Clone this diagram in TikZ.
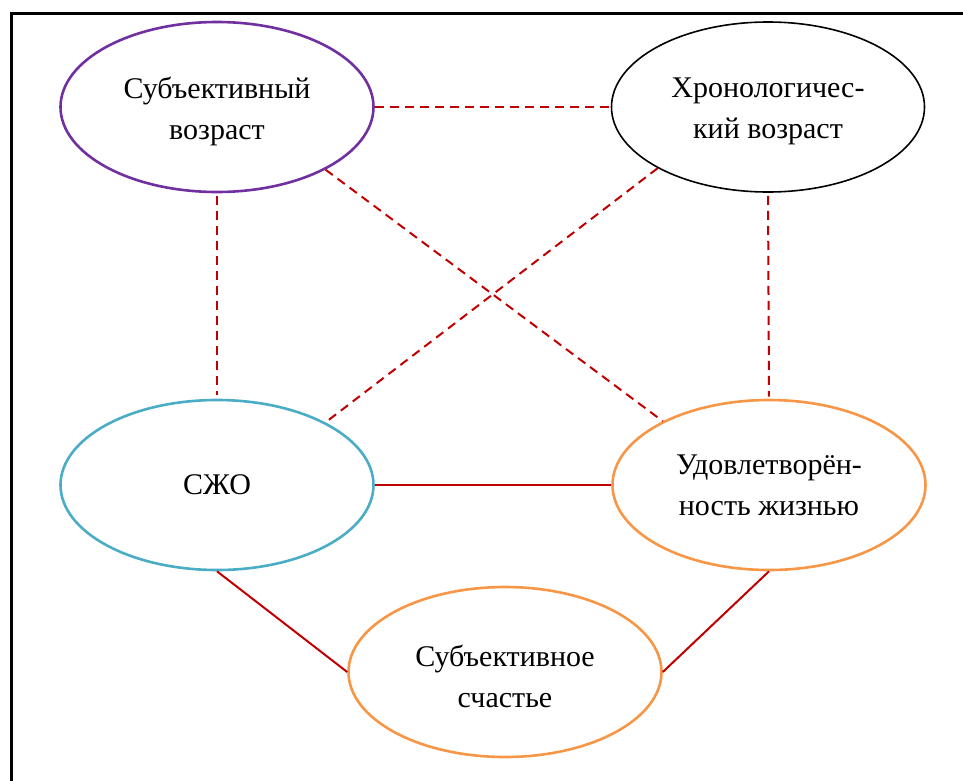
\documentclass[tikz,border=0pt]{standalone}
\usepackage{fontspec}
\setmainfont{Liberation Serif}
\usetikzlibrary{shapes.geometric}
\definecolor{purp}{HTML}{7030A0}
\definecolor{cyanb}{HTML}{4BACC6}
\definecolor{orng}{HTML}{F79646}
\definecolor{redl}{HTML}{C00000}
\begin{document}
\begin{tikzpicture}[x=1pt,y=-1pt,
  oval/.style={ellipse,draw,line width=2.6pt,minimum width=313pt,minimum height=170pt,inner sep=0pt},
  txt/.style={align=center,inner sep=0pt,font=\fontsize{30pt}{41pt}\selectfont},
  dashl/.style={draw=redl,line width=2pt,dash pattern=on 9pt off 6pt},
  solidl/.style={draw=redl,line width=2pt}]
\path[use as bounding box] (0,0) rectangle (963,780);
\begin{scope}
\clip (0,0) rectangle (963,780);
\draw[line width=3pt] (11.5,13) rectangle (1000,1000);
\end{scope}
\node[oval,draw=purp,label={[txt,name=st,yshift=-4pt]center:Субъективный\\возраст}] (s) at (217,107) {};
\node[oval,draw=black,line width=1.6pt,label={[txt,name=xt,yshift=-4pt]center:Хронологичес-\\кий возраст}] (x) at (768,107) {};
\node[oval,draw=cyanb,label={[txt,name=ct]center:СЖО}] (c) at (217,485) {};
\node[oval,draw=orng,label={[txt,name=ut]center:Удовлетворён-\\ность жизнью}] (u) at (769,485) {};
\node[oval,draw=orng,label={[txt,name=ht,yshift=-4pt]center:Субъективное\\счастье}] (h) at (505,672) {};
\draw[dashl] (s.east) -- (x.west);
\draw[dashl,shorten <=3pt,shorten >=4pt] (s.south) -- (c.north);
\draw[dashl,shorten <=3pt,shorten >=2pt] (x.south) -- (u.north);
\draw[dashl] (s.-30) -- (u.149);
\draw[dashl] (x.-151) -- (c.30);
\draw[solidl] (c.east) -- (u.west);
\draw[solidl] (c.south) -- (h.west);
\draw[solidl] (u.south) -- (h.east);
\end{tikzpicture}
\end{document}
